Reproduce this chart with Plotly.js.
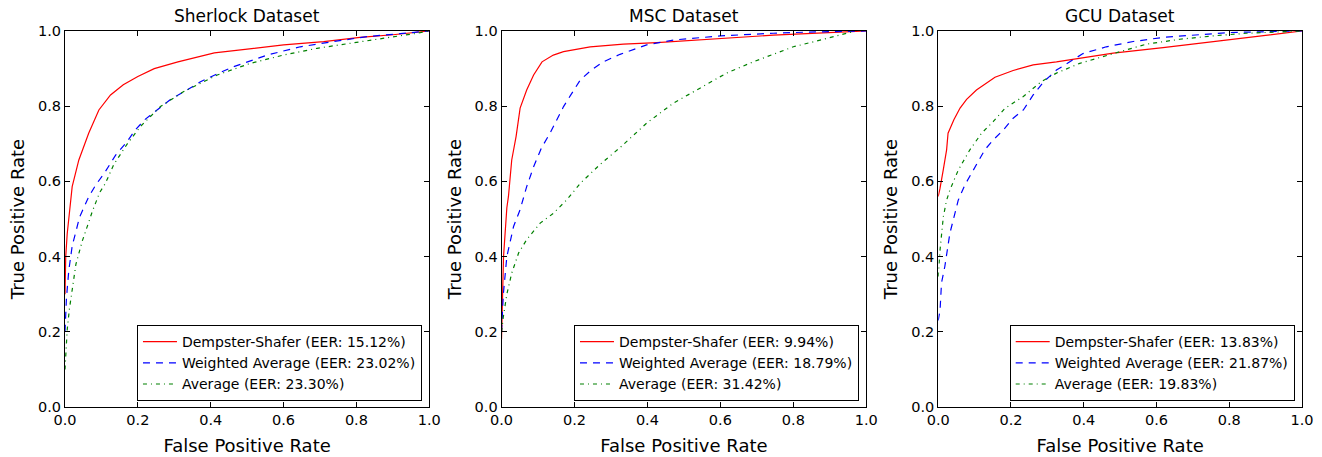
<!DOCTYPE html>
<html>
<head>
<meta charset="utf-8">
<script src="https://cdn.plot.ly/plotly-3.0.1.min.js"></script>
<style>html,body{margin:0;padding:0;background:#fff;}#chart{width:1322px;height:457px;}</style>
</head>
<body>
<div id="chart"></div>
<script>
// ---- Data ----
const panelTitles = ["Sherlock Dataset", "MSC Dataset", "GCU Dataset"];
const seriesNames = ["Dempster-Shafer", "Weighted Average", "Average"];
const eerSherlock = ["15.12%", "23.02%", "23.30%"];
const eerMSC = ["9.94%", "18.79%", "31.42%"];
const eerGCU = ["13.83%", "21.87%", "19.83%"];
const tickVals = [0, 0.2, 0.4, 0.6, 0.8, 1.0];
const tickText = ["0.0", "0.2", "0.4", "0.6", "0.8", "1.0"];

// Sherlock
const sherDS_fpr = [0, 0.002, 0.006, 0.0104, 0.0197, 0.038, 0.065, 0.093, 0.125, 0.16, 0.2, 0.245, 0.31, 0.41, 0.51, 0.6, 0.71, 0.81, 0.9, 1];
const sherDS_tpr = [0.30, 0.40, 0.46, 0.497, 0.586, 0.657, 0.728, 0.79, 0.83, 0.857, 0.879, 0.90, 0.918, 0.942, 0.954, 0.963, 0.972, 0.983, 0.99, 1];
const sherWA_fpr = [0, 0.004, 0.0105, 0.02, 0.029, 0.04, 0.065, 0.084, 0.11, 0.139, 0.17, 0.193, 0.22, 0.253, 0.294, 0.33, 0.372, 0.42, 0.463, 0.555, 0.646, 0.738, 0.829, 0.92, 1];
const sherWA_tpr = [0.2, 0.29, 0.364, 0.43, 0.463, 0.505, 0.559, 0.59, 0.625, 0.67, 0.705, 0.737, 0.765, 0.79, 0.821, 0.84, 0.865, 0.887, 0.905, 0.936, 0.958, 0.972, 0.985, 0.993, 1];
const sherAV_fpr = [0, 0.002, 0.006, 0.012, 0.02, 0.03, 0.047, 0.06, 0.075, 0.095, 0.111, 0.134, 0.171, 0.207, 0.262, 0.326, 0.418, 0.509, 0.6, 0.692, 0.783, 0.875, 0.966, 1];
const sherAV_tpr = [0.1, 0.15, 0.205, 0.26, 0.32, 0.38, 0.44, 0.48, 0.52, 0.57, 0.595, 0.645, 0.70, 0.746, 0.799, 0.839, 0.883, 0.914, 0.936, 0.954, 0.967, 0.98, 0.994, 1];

// MSC
const mscDS_fpr = [0, 0.002, 0.0055, 0.0146, 0.019, 0.028, 0.04, 0.051, 0.069, 0.088, 0.111, 0.142, 0.17, 0.243, 0.334, 0.426, 0.563, 0.745, 0.928, 1];
const mscDS_tpr = [0.18, 0.3, 0.4, 0.53, 0.56, 0.657, 0.72, 0.795, 0.843, 0.883, 0.918, 0.936, 0.945, 0.958, 0.965, 0.969, 0.978, 0.989, 0.997, 1];
const mscWA_fpr = [0, 0.005, 0.0146, 0.033, 0.051, 0.069, 0.088, 0.11, 0.133, 0.152, 0.17, 0.19, 0.216, 0.245, 0.279, 0.325, 0.398, 0.471, 0.6, 0.745, 0.837, 1];
const mscWA_tpr = [0.2, 0.3, 0.40, 0.48, 0.525, 0.586, 0.639, 0.69, 0.728, 0.763, 0.799, 0.83, 0.87, 0.895, 0.918, 0.938, 0.963, 0.976, 0.987, 0.994, 0.997, 1];
const mscAV_fpr = [0, 0.005, 0.0146, 0.028, 0.047, 0.069, 0.106, 0.142, 0.179, 0.216, 0.27, 0.325, 0.398, 0.471, 0.544, 0.617, 0.69, 0.8, 0.891, 0.969];
const mscAV_tpr = [0.2, 0.24, 0.30, 0.356, 0.41, 0.445, 0.489, 0.515, 0.551, 0.595, 0.645, 0.69, 0.755, 0.808, 0.848, 0.888, 0.918, 0.958, 0.98, 1.0];

// GCU
const gcuDS_fpr = [0, 0.0046, 0.0137, 0.023, 0.027, 0.032, 0.043, 0.06, 0.078, 0.105, 0.133, 0.156, 0.206, 0.261, 0.325, 0.389, 0.481, 0.618, 0.801, 1];
const gcuDS_tpr = [0.56, 0.58, 0.63, 0.684, 0.728, 0.741, 0.764, 0.795, 0.818, 0.843, 0.861, 0.877, 0.895, 0.91, 0.918, 0.927, 0.941, 0.956, 0.978, 1];
const gcuWA_fpr = [0, 0.005, 0.009, 0.018, 0.032, 0.041, 0.055, 0.073, 0.096, 0.128, 0.151, 0.179, 0.206, 0.234, 0.261, 0.29, 0.325, 0.362, 0.398, 0.462, 0.536, 0.618, 0.71, 0.801, 1];
const gcuWA_tpr = [0.23, 0.258, 0.33, 0.373, 0.462, 0.498, 0.55, 0.59, 0.63, 0.684, 0.71, 0.737, 0.768, 0.79, 0.83, 0.865, 0.896, 0.918, 0.94, 0.958, 0.972, 0.983, 0.989, 0.996, 1];
const gcuAV_fpr = [0, 0.002, 0.005, 0.014, 0.023, 0.032, 0.055, 0.087, 0.119, 0.151, 0.183, 0.234, 0.283, 0.325, 0.389, 0.5, 0.572, 0.664, 0.755, 0.847, 1];
const gcuAV_tpr = [0.347, 0.38, 0.418, 0.506, 0.55, 0.577, 0.63, 0.684, 0.728, 0.759, 0.794, 0.826, 0.865, 0.888, 0.914, 0.945, 0.965, 0.978, 0.987, 0.994, 1];

// ---- Styling ----
const FONT = "DejaVu Sans";
const colors = ["#ff0000", "#0000ff", "#008000"];
const dashes = ["solid", "7px,6px", "4px,4px,1px,4px"];

const panels = [
  {eer: eerSherlock, data: [[sherDS_fpr, sherDS_tpr], [sherWA_fpr, sherWA_tpr], [sherAV_fpr, sherAV_tpr]]},
  {eer: eerMSC, data: [[mscDS_fpr, mscDS_tpr], [mscWA_fpr, mscWA_tpr], [mscAV_fpr, mscAV_tpr]]},
  {eer: eerGCU, data: [[gcuDS_fpr, gcuDS_tpr], [gcuWA_fpr, gcuWA_tpr], [gcuAV_fpr, gcuAV_tpr]]}
];

const W = 1322, H = 457;
const mL = 64.5, mR = 19.7, mT = 31, mB = 50;
const PW = W - mL - mR;
const pxLeft = [64.5, 501.3, 938.3];
const pxRight = [429, 866.3, 1302.3];
const legRight = [421.7, 859, 1295];
const legBottom = 401;

const traces = [];
const layout = {
  width: W, height: H,
  margin: {l: mL, r: mR, t: mT, b: mB, pad: 0},
  paper_bgcolor: "#ffffff",
  plot_bgcolor: "#ffffff",
  font: {family: FONT, size: 14, color: "#000"},
  annotations: []
};

panels.forEach((p, i) => {
  const sfx = i === 0 ? "" : String(i + 1);
  const legName = "legend" + sfx;
  p.data.forEach((d, j) => {
    traces.push({
      x: d[0], y: d[1],
      type: "scatter", mode: "lines",
      name: seriesNames[j] + " (EER: " + p.eer[j] + ")",
      line: {color: colors[j], width: 1.2, dash: dashes[j]},
      xaxis: "x" + sfx, yaxis: "y" + sfx,
      legend: legName,
      hoverinfo: "skip"
    });
  });
  const d0 = (pxLeft[i] - mL) / PW, d1 = (pxRight[i] - mL) / PW;
  const axCommon = {
    range: [0, 1], tickvals: tickVals, ticktext: tickText,
    ticks: "inside", ticklen: 5, tickwidth: 1, tickcolor: "#000",
    showline: true, linecolor: "#000", linewidth: 1, mirror: "ticks",
    showgrid: false, zeroline: false, fixedrange: true,
    tickfont: {family: FONT, size: 14.5, color: "#000"}
  };
  layout["xaxis" + sfx] = Object.assign({}, axCommon, {
    domain: [d0, d1], anchor: "y" + sfx,
    title: {text: "False Positive Rate", font: {family: FONT, size: 18, color: "#000"}, standoff: 11}
  });
  layout["yaxis" + sfx] = Object.assign({}, axCommon, {
    domain: [0, 1], anchor: "x" + sfx,
    title: {text: "True Positive Rate", font: {family: FONT, size: 18, color: "#000"}, standoff: 8}
  });
  layout[legName] = {
    x: (legRight[i] - mL) / PW, xanchor: "right",
    y: (H - mB - legBottom) / (H - mT - mB), yanchor: "bottom",
    bgcolor: "#ffffff", bordercolor: "#000", borderwidth: 1,
    font: {family: FONT, size: 14, color: "#000"},
    itemwidth: 34,
    tracegroupgap: 0
  };
  layout.annotations.push({
    text: panelTitles[i], xref: "paper", yref: "paper",
    x: (d0 + d1) / 2, y: 1, xanchor: "center", yanchor: "bottom", yshift: 3,
    showarrow: false, font: {family: FONT, size: 17, color: "#000"}
  });
});

Plotly.newPlot("chart", traces, layout, {displayModeBar: false, staticPlot: true});
</script>
</body>
</html>
